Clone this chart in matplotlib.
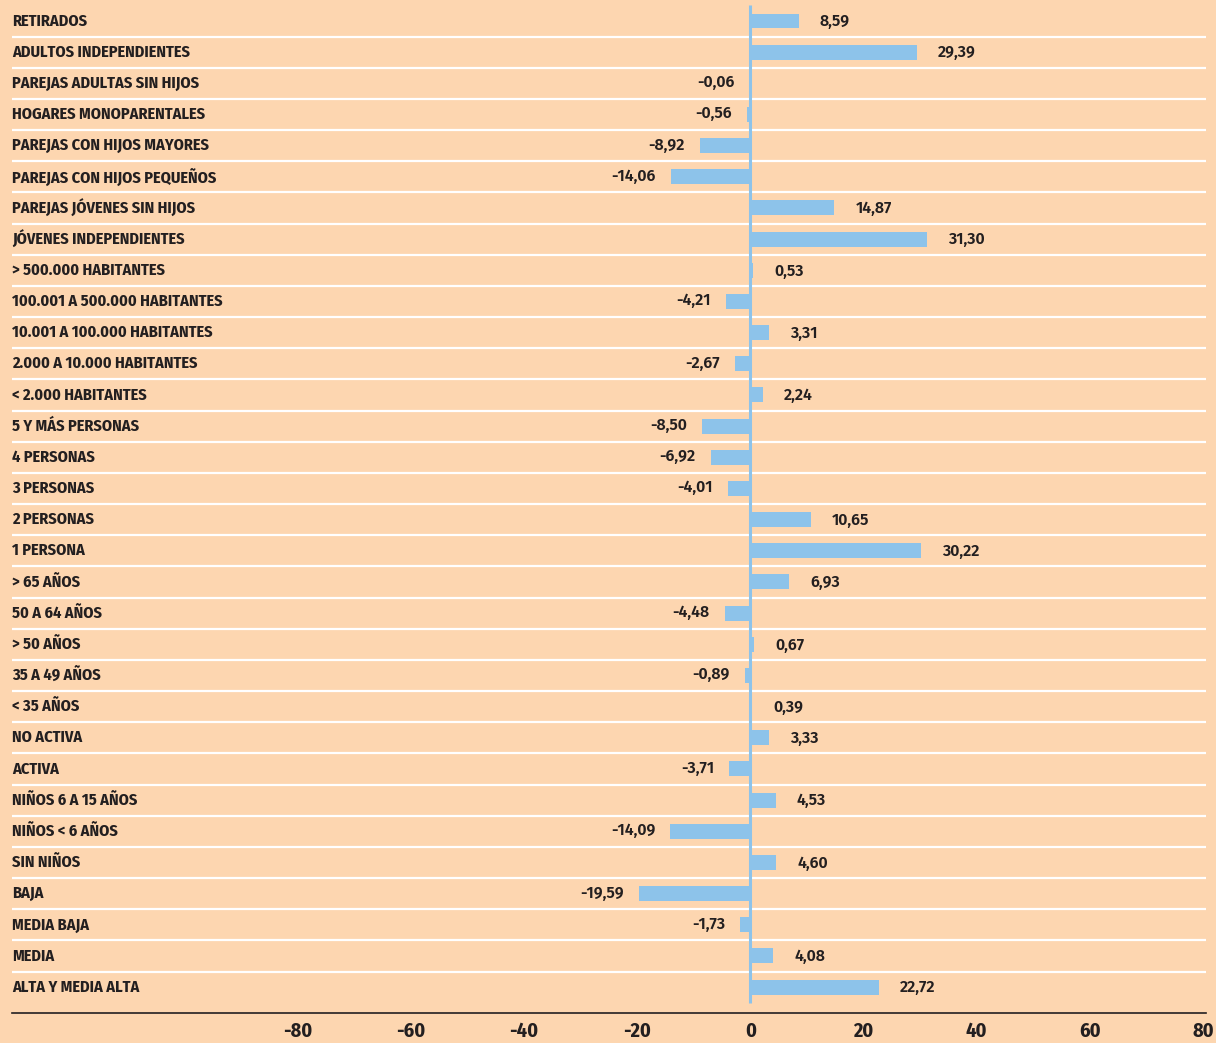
import matplotlib
matplotlib.use("Agg")
import matplotlib.pyplot as plt

categories = [
    "RETIRADOS", "ADULTOS INDEPENDIENTES", "PAREJAS ADULTAS SIN HIJOS",
    "HOGARES MONOPARENTALES", "PAREJAS CON HIJOS MAYORES",
    "PAREJAS CON HIJOS PEQUEÑOS", "PAREJAS JÓVENES SIN HIJOS",
    "JÓVENES INDEPENDIENTES", "> 500.000 HABITANTES",
    "100.001 A 500.000 HABITANTES", "10.001 A 100.000 HABITANTES",
    "2.000 A 10.000 HABITANTES", "< 2.000 HABITANTES", "5 Y MÁS PERSONAS",
    "4 PERSONAS", "3 PERSONAS", "2 PERSONAS", "1 PERSONA", "> 65 AÑOS",
    "50 A 64 AÑOS", "> 50 AÑOS", "35 A 49 AÑOS", "< 35 AÑOS", "NO ACTIVA",
    "ACTIVA", "NIÑOS 6 A 15 AÑOS", "NIÑOS < 6 AÑOS", "SIN NIÑOS", "BAJA",
    "MEDIA BAJA", "MEDIA", "ALTA Y MEDIA ALTA",
]
values = [
    8.59, 29.39, -0.06, -0.56, -8.92, -14.06, 14.87, 31.30, 0.53, -4.21,
    3.31, -2.67, 2.24, -8.50, -6.92, -4.01, 10.65, 30.22, 6.93, -4.48,
    0.67, -0.89, 0.39, 3.33, -3.71, 4.53, -14.09, 4.60, -19.59, -1.73,
    4.08, 22.72,
]
xticks = [-80, -60, -40, -20, 0, 20, 40, 60, 80]

bg = "#fdd6b0"
bar_color = "#8dc3ea"
text_color = "#231f20"
cond = ["Fira Sans Condensed", "Liberation Sans", "DejaVu Sans"]
normal = ["Fira Sans", "Liberation Sans", "DejaVu Sans"]

fig = plt.figure(figsize=(12.16, 10.43), dpi=100, facecolor=bg)
ax = fig.add_axes([12 / 1216, 1 - 1013 / 1043, 1194 / 1216, (1013 - 5.4) / 1043])
ax.set_facecolor(bg)

n = len(categories)
ypos = list(range(n))
ax.barh(ypos, values, height=0.48, color=bar_color, zorder=2)

# zero line
ax.vlines(0, -0.5, n - 0.5, color=bar_color, linewidth=2.2, zorder=3)

# row separators
for i in range(n - 1):
    ax.axhline(i + 0.5, color="white", linewidth=1.6, zorder=1)

xmin, xmax = -130.4, 80.5
ax.set_xlim(xmin, xmax)
ax.set_ylim(n - 0.5 + 0.33, -0.5)

for y, (cat, v) in enumerate(zip(categories, values)):
    ax.text(xmin + 0.05, y, cat, ha="left", va="center", fontsize=11.7,
            fontweight="bold", color=text_color, family=cond)
    label = f"{v:.2f}".replace(".", ",")
    if v >= 0:
        ax.annotate(label, (v, y), xytext=(15, -0.5), textcoords="offset points",
                    ha="left", va="center", fontsize=11.5, fontweight="semibold",
                    color=text_color, family=normal)
    else:
        ax.annotate(label, (v, y), xytext=(-11, 0.5), textcoords="offset points",
                    ha="right", va="center", fontsize=11.5, fontweight="semibold",
                    color=text_color, family=normal)

ax.set_xticks(xticks)
ax.set_xticklabels([str(t) for t in xticks], fontsize=14.5, fontweight="bold",
                   color=text_color, family=cond)
ax.tick_params(axis="x", length=0, pad=6)
ax.set_yticks([])
for side in ["top", "left", "right"]:
    ax.spines[side].set_visible(False)
ax.spines["bottom"].set_color(text_color)
ax.spines["bottom"].set_linewidth(1.2)

fig.savefig("out.png", dpi=100, facecolor=bg)
